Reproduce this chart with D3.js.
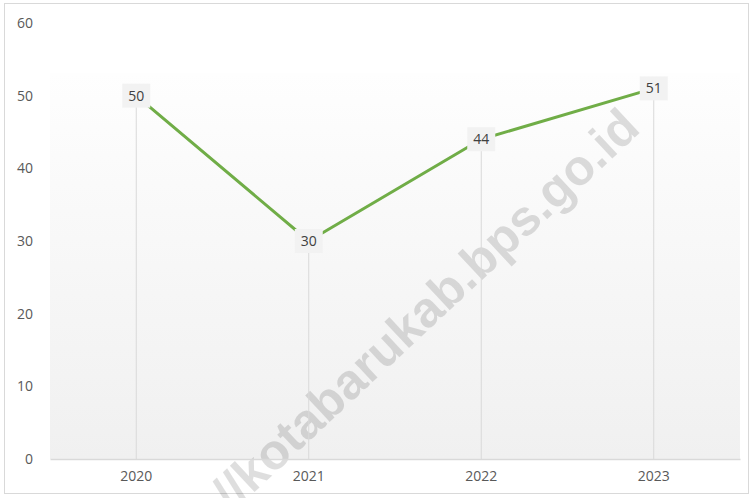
<!DOCTYPE html>
<html>
<head>
<meta charset="utf-8">
<script src="https://cdn.jsdelivr.net/npm/d3@7"></script>
<style>
  body { margin: 0; background: #fff; }
  svg { display: block; font-family: "Open Sans", sans-serif; }
</style>
</head>
<body>
<svg id="chart" width="752" height="498"></svg>
<script>
// Data
var years = ["2020", "2021", "2022", "2023"];
var values = [50, 30, 44, 51];
var yTicks = [0, 10, 20, 30, 40, 50, 60];

var svg = d3.select("#chart");
var margin = { left: 50, right: 12, top: 23, bottom: 39 };
var width = 752, height = 498;

var x = d3.scaleBand()
  .domain(years)
  .range([margin.left, width - margin.right]);

var y = d3.scaleLinear()
  .domain([0, 60])
  .range([height - margin.bottom, margin.top]);

// chart border
svg.append("rect")
  .attr("x", 4.5).attr("y", 3.5)
  .attr("width", 744).attr("height", 490)
  .attr("fill", "#fff")
  .attr("stroke", "#d9d9d9");

// plot area gradient
var grad = svg.append("defs").append("linearGradient")
  .attr("id", "bg").attr("x1", 0).attr("y1", 0).attr("x2", 0).attr("y2", 1);
grad.append("stop").attr("offset", "0%").attr("stop-color", "#fefefe");
grad.append("stop").attr("offset", "100%").attr("stop-color", "#f0f0f0");

svg.append("rect")
  .attr("x", margin.left)
  .attr("y", 73)
  .attr("width", width - margin.right - margin.left)
  .attr("height", y(0) - 73)
  .attr("fill", "url(#bg)");

// watermark
svg.append("text")
  .attr("transform", "translate(437,322) rotate(-43)")
  .attr("text-anchor", "middle")
  .attr("font-family", "Liberation Sans, Arial, sans-serif")
  .attr("font-weight", "bold")
  .attr("font-size", 50)
  .attr("fill", "#000")
  .attr("fill-opacity", 0.13)
  .text("//kotabarukab.bps.go.id");

// y tick labels
svg.append("g")
  .selectAll("text")
  .data(yTicks)
  .enter()
  .append("text")
  .attr("x", 33)
  .attr("y", function(d) { return y(d); })
  .attr("dy", "0.35em")
  .attr("text-anchor", "end")
  .attr("font-size", 14)
  .attr("fill", "#595959")
  .text(function(d) { return d; });

// x axis
var xAxis = svg.append("g")
  .attr("transform", "translate(0," + y(0) + ")")
  .call(d3.axisBottom(x).tickSize(0).tickPadding(12));
xAxis.select(".domain").attr("stroke", "#d9d9d9").attr("stroke-width", 1.5);
xAxis.selectAll("text")
  .attr("font-size", 14)
  .attr("font-family", "Open Sans, sans-serif")
  .attr("fill", "#595959");

var cx = function(d, i) { return x(years[i]) + x.bandwidth() / 2; };

// drop lines
svg.append("g")
  .selectAll("line")
  .data(values)
  .enter()
  .append("line")
  .attr("x1", cx).attr("x2", cx)
  .attr("y1", function(d) { return y(d); })
  .attr("y2", y(0))
  .attr("stroke", "#d9d9d9")
  .attr("stroke-width", 1);

// line
var line = d3.line()
  .x(cx)
  .y(function(d) { return y(d); });

svg.append("path")
  .datum(values)
  .attr("d", line)
  .attr("fill", "none")
  .attr("stroke", "#70ad47")
  .attr("stroke-width", 3)
  .attr("stroke-linejoin", "round");

// data labels
var labels = svg.append("g")
  .selectAll("g")
  .data(values)
  .enter()
  .append("g")
  .attr("transform", function(d, i) { return "translate(" + cx(d, i) + "," + y(d) + ")"; });

labels.append("rect")
  .attr("x", -14).attr("y", -12)
  .attr("width", 28).attr("height", 24)
  .attr("fill", "#f2f2f2");

labels.append("text")
  .attr("text-anchor", "middle")
  .attr("dy", "0.35em")
  .attr("font-size", 14)
  .attr("fill", "#404040")
  .text(function(d) { return d; });
</script>
</body>
</html>
